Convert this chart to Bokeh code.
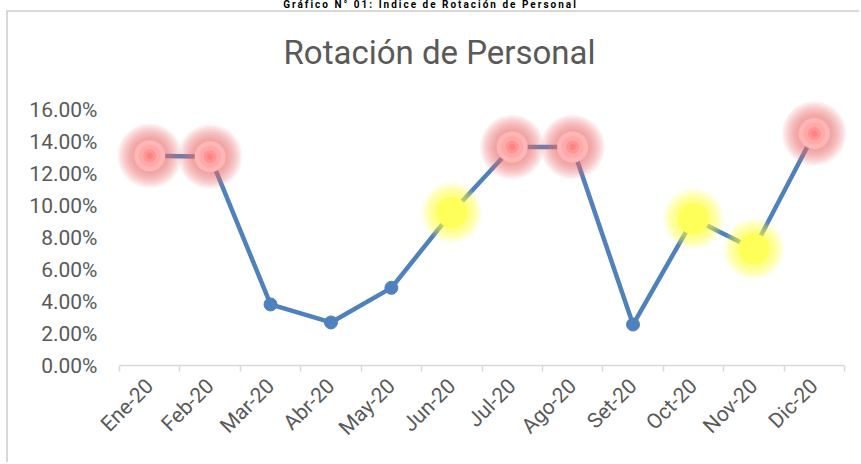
import math
from bokeh.plotting import figure
from bokeh.layouts import column
from bokeh.models import Range1d, FixedTicker, NumeralTickFormatter, ColumnDataSource, Div
from bokeh.embed import file_html
from bokeh.resources import INLINE

# ---- data ----
months = ["Ene-20", "Feb-20", "Mar-20", "Abr-20", "May-20", "Jun-20",
          "Jul-20", "Ago-20", "Set-20", "Oct-20", "Nov-20", "Dic-20"]
rotation = [0.1315, 0.1310, 0.0383, 0.0270, 0.0487, 0.0960,
            0.1370, 0.1370, 0.0257, 0.0920, 0.0730, 0.1455]
highlight = ["red", "red", "", "", "", "yellow",
             "red", "red", "", "yellow", "yellow", "red"]
y_ticks = [0.00, 0.02, 0.04, 0.06, 0.08, 0.10, 0.12, 0.14, 0.16]
chart_title = "Rotación de Personal"
page_heading = "Gráfico N° 01: Índice de Rotación de Personal"

x_pos = [i + 0.5 for i in range(len(months))]
src = ColumnDataSource(dict(x=x_pos, y=rotation))
red_src = ColumnDataSource(dict(
    x=[x for x, h in zip(x_pos, highlight) if h == "red"],
    y=[v for v, h in zip(rotation, highlight) if h == "red"]))
yel_src = ColumnDataSource(dict(
    x=[x for x, h in zip(x_pos, highlight) if h == "yellow"],
    y=[v for v, h in zip(rotation, highlight) if h == "yellow"]))

FONT = "Roboto"
GREY = "#595959"
BLUE = "#4F81BD"

# y range goes a bit above the top tick so the glow is not clipped
p = figure(width=853, height=452, output_backend="svg", toolbar_location=None,
           x_range=Range1d(-0.1, len(months) + 0.1), y_range=Range1d(y_ticks[0], 0.18),
           min_border_left=105, min_border_right=11, min_border_top=66, min_border_bottom=99,
           margin=0)
p.styles = {"border-top": "2px solid #D9D9D9", "border-left": "2px solid #D9D9D9",
            "margin-left": "6px"}
p.outline_line_color = None
p.xgrid.visible = False
p.ygrid.visible = False
p.background_fill_color = "white"
p.border_fill_color = "white"

p.title.text = chart_title
p.title.text_font = FONT
p.title.text_font_size = "33px"
p.title.text_font_style = "normal"
p.title.text_color = GREY
p.title.align = "left"
p.title.offset = 170
p.title.standoff = 14

# x axis
xa = p.xaxis[0]
xa.bounds = (0, len(months))
xa.ticker = FixedTicker(ticks=x_pos, minor_ticks=list(range(len(months) + 1)))
xa.major_label_overrides = {x: m for x, m in zip(x_pos, months)}
xa.major_label_orientation = math.pi / 4
xa.axis_line_color = "#D9D9D9"
xa.axis_line_width = 1.5
xa.major_tick_line_color = None
xa.major_tick_out = 0
xa.major_tick_in = 0
xa.minor_tick_line_color = "#D9D9D9"
xa.minor_tick_line_width = 1.5
xa.minor_tick_out = 6
xa.minor_tick_in = 0
xa.major_label_standoff = 11
xa.major_label_text_font = FONT
xa.major_label_text_font_size = "21px"
xa.major_label_text_color = GREY

# y axis
ya = p.yaxis[0]
ya.ticker = FixedTicker(ticks=y_ticks)
ya.formatter = NumeralTickFormatter(format="0.00%")
ya.axis_line_color = None
ya.major_tick_line_color = None
ya.minor_tick_line_color = None
ya.major_tick_out = 0
ya.major_tick_in = 0
ya.major_label_standoff = 16
ya.major_label_text_font = FONT
ya.major_label_text_font_size = "21px"
ya.major_label_text_color = GREY

# series line + markers
p.line("x", "y", source=src, line_color=BLUE, line_width=4.5)
p.scatter("x", "y", source=src, size=13, fill_color=BLUE, line_color=BLUE)

# glow highlights
for s in range(64, 33, -4):
    p.scatter("x", "y", source=red_src, size=s, fill_color="#EE6A6A",
              fill_alpha=0.11, line_color=None)
p.scatter("x", "y", source=red_src, size=31, fill_color="#FFB6B6", line_color=None)
p.scatter("x", "y", source=red_src, size=22, fill_color="#FF9A9A", fill_alpha=0.45, line_color=None)
p.scatter("x", "y", source=red_src, size=13, fill_color="#FF8080", fill_alpha=0.5, line_color=None)
p.scatter("x", "y", source=red_src, size=6, fill_color="#FF7070", fill_alpha=0.5, line_color=None)

for s in range(60, 33, -4):
    p.scatter("x", "y", source=yel_src, size=s, fill_color="#FFFF40",
              fill_alpha=0.13, line_color=None)
p.scatter("x", "y", source=yel_src, size=31, fill_color="#FFFF59", line_color=None)

# page heading above the chart box
heading = Div(text=page_heading, width=861, height=10, margin=0,
              styles={"font-family": "Roboto", "font-weight": "bold", "font-size": "10px",
                      "line-height": "10px", "letter-spacing": "2px", "color": "#000000",
                      "text-align": "center", "white-space": "nowrap"})

layout = column(heading, p, spacing=0)
open("out.html", "w").write(file_html(layout, INLINE))
